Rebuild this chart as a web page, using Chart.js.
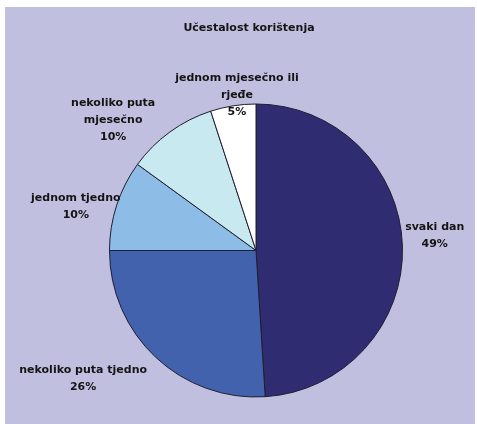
<!DOCTYPE html>
<html>
<head>
<meta charset="utf-8">
<script src="https://cdn.jsdelivr.net/npm/chart.js@4"></script>
<style>
  html, body { margin: 0; padding: 0; background: #ffffff; }
  #wrap { position: relative; width: 477px; height: 424px; }
</style>
</head>
<body>
<div id="wrap"><canvas id="c" width="477" height="424"></canvas></div>
<script>
// Survey: how often the service is used (share of respondents, %)
const title = 'Učestalost korištenja';
const categories = [
  ['svaki dan'],
  ['nekoliko puta tjedno'],
  ['jednom tjedno'],
  ['nekoliko puta', 'mjesečno'],
  ['jednom mjesečno ili', 'rjeđe']
];
const shares = [49, 26, 10, 10, 5];
const sliceColors = ['#2f2c72', '#4262ae', '#8dbde6', '#c9e9f1', '#ffffff'];

// Where each label sits, relative to the pie centre, in units of the pie radius
const labelAnchors = [
  [1.22, -0.10],
  [-1.18, 0.875],
  [-1.23, -0.30],
  [-0.975, -0.89],
  [-0.13, -1.06]
];

const FONT = 'bold 11px "DejaVu Sans", Verdana, sans-serif';
const LINE = 17;

const backdrop = {
  id: 'backdrop',
  beforeDraw(chart) {
    const ctx = chart.ctx;
    ctx.save();
    ctx.fillStyle = '#ffffff';
    ctx.fillRect(0, 0, chart.width, chart.height);
    ctx.fillStyle = '#c0bfdf';
    ctx.fillRect(5, 7, chart.width - 7, chart.height - 7);
    ctx.restore();
  }
};

const sliceLabels = {
  id: 'sliceLabels',
  afterDatasetsDraw(chart) {
    const ctx = chart.ctx;
    const meta = chart.getDatasetMeta(0);
    ctx.save();
    ctx.font = FONT;
    ctx.fillStyle = '#141414';
    ctx.textAlign = 'center';
    ctx.textBaseline = 'middle';
    meta.data.forEach((arc, i) => {
      const r = arc.outerRadius;
      const cx = arc.x + labelAnchors[i][0] * r;
      const cy = arc.y + labelAnchors[i][1] * r;
      const lines = categories[i].concat([shares[i] + '%']);
      const top = cy - (lines.length - 1) * LINE / 2;
      lines.forEach((t, k) => ctx.fillText(t, cx, top + k * LINE));
    });
    // chart title
    ctx.fillText(title, 249, 28);
    ctx.restore();
  }
};

new Chart(document.getElementById('c'), {
  type: 'pie',
  data: {
    labels: categories.map(c => c.join(' ')),
    datasets: [{
      data: shares,
      backgroundColor: sliceColors,
      borderColor: '#1e1e2e',
      borderWidth: 1
    }]
  },
  options: {
    responsive: false,
    animation: false,
    layout: { padding: { left: 109, right: 74, top: 103, bottom: 26 } },
    plugins: {
      legend: { display: false },
      tooltip: { enabled: false },
      title: { display: false }
    }
  },
  plugins: [backdrop, sliceLabels]
});
</script>
</body>
</html>
